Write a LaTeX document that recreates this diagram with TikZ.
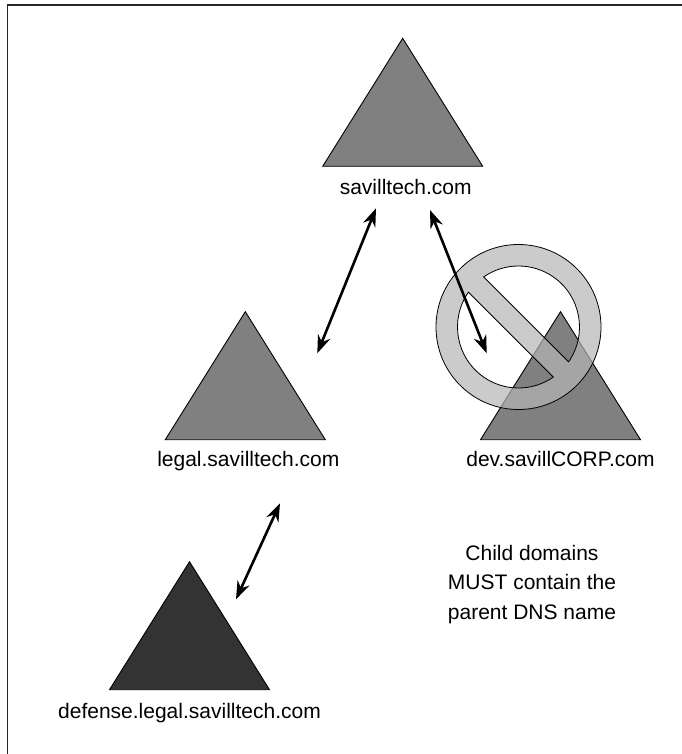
\documentclass[tikz,border=0pt]{standalone}
\usepackage{fontspec}
\setmainfont{Liberation Sans}
\usetikzlibrary{shapes.geometric, arrows.meta}
\tikzstyle{domtri} = [isosceles triangle, isosceles triangle stretches, shape border rotate=90, minimum width=160pt, minimum height=128pt, inner sep=0pt, outer sep=0pt, draw=black, line width=0.9pt, fill=black!50, anchor=apex]
\tikzstyle{deeptri} = [domtri, fill=black!80]
\tikzstyle{domname} = [font=\fontsize{21}{25}\selectfont, inner sep=0pt, anchor=north]
\tikzstyle{note} = [font=\fontsize{21}{29.5}\selectfont, inner sep=0pt, align=center]
\tikzstyle{trust} = [line width=2.6pt, {Stealth[length=18pt,width=13pt]}-{Stealth[length=18pt,width=13pt]}]
\tikzstyle{nosign} = [draw=black, line width=0.8pt, fill=black!29, fill opacity=0.7, even odd rule]

\begin{document}
\begin{tikzpicture}[x=1pt, y=1pt]
	\useasboundingbox (0,0) rectangle (681,-754);
	\draw [line width=1.3pt, black!85] (7.3,-760) -- (7.3,-5) -- (690,-5);

	\node (top) [domtri] at (402.7,-38.3) {};
	\node (legal) [domtri] at (245.3,-311.7) {};
	\node (dev) [domtri] at (560.5,-311.7) {};
	\node (defense) [deeptri] at (189.5,-561.7) {};

	\node (topname) [domname] at ([xshift=3pt, yshift=-13pt]top.south) {savilltech.com};
	\node (legalname) [domname] at ([xshift=3pt, yshift=-11pt]legal.south) {legal.savilltech.com};
	\node (devname) [domname] at ([yshift=-11pt]dev.south) {dev.savillCORP.com};
	\node (defensename) [domname] at ([yshift=-13pt]defense.south) {defense.legal.savilltech.com};

	\node (rule) [note] at (532,-584.2) {Child domains\\MUST contain the\\parent DNS name};

	\coordinate (ban) at (518.5,-327);
	\path [nosign] (ban) circle (82.5pt)
		([shift={(-34.8:61pt)}]ban) arc [start angle=-34.8, end angle=124.8, radius=61pt] -- cycle
		([shift={(145.2:61pt)}]ban) arc [start angle=145.2, end angle=304.8, radius=61pt] -- cycle;

	\coordinate (topleft) at (376,-208.3);
	\coordinate (legalup) at (317.3,-353.3);
	\coordinate (topright) at (430,-210);
	\coordinate (devup) at (486.7,-353.3);
	\coordinate (legaldown) at (280,-503.3);
	\coordinate (defenseup) at (236,-599.3);
	\draw [trust] (topleft) -- (legalup);
	\draw [trust] (topright) -- (devup);
	\draw [trust] (legaldown) -- (defenseup);
\end{tikzpicture}
\end{document}
